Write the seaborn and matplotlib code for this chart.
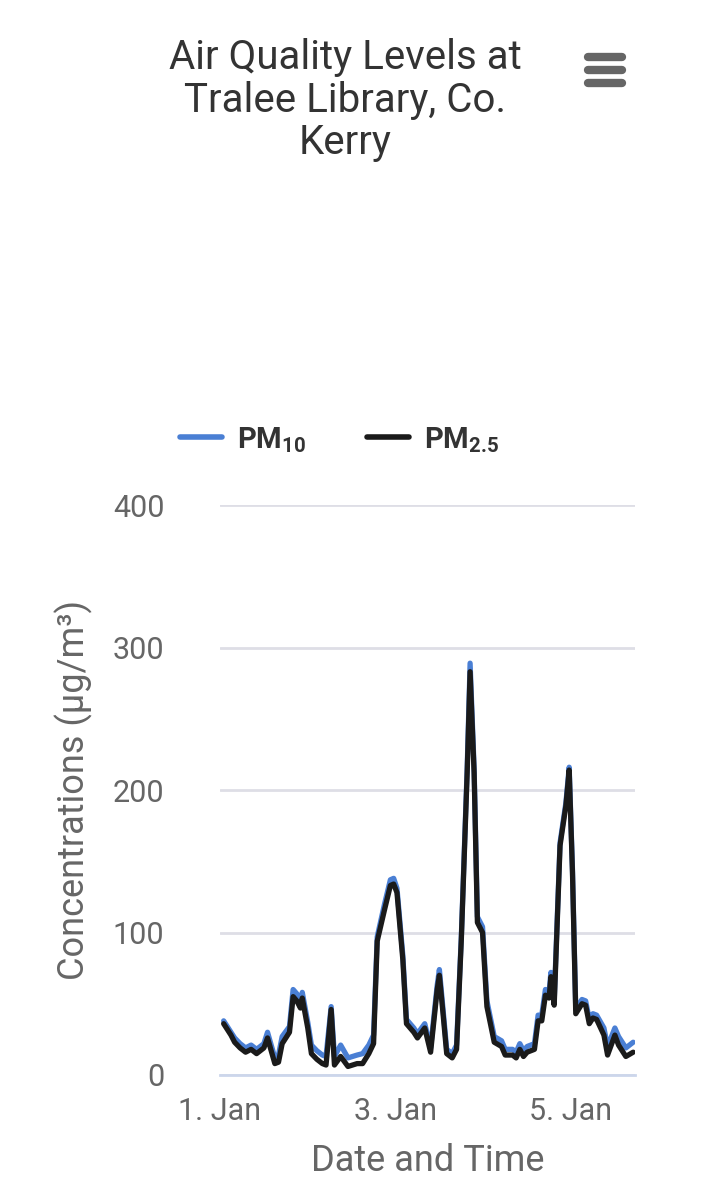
import numpy as np
import pandas as pd
import matplotlib
matplotlib.use("Agg")
import matplotlib.pyplot as plt
import seaborn as sns

# hours since 1 Jan 00:00
hours = [1, 3, 4, 5.5, 7, 8.5, 10, 12, 13, 15, 16, 17, 19, 20, 21, 22, 22.5, 24, 25,
         26.5, 28, 29, 30.4, 31.3, 33, 35, 37.5, 39, 40.7, 42, 43, 45, 46.6, 47.5, 48.4,
         50, 51, 53, 54, 56, 57.6, 59.4, 60, 61, 62, 63.5, 64.7, 66, 67.6, 68.4, 69.5,
         70.4, 71.8, 73, 75, 77, 78, 80, 81, 82, 83, 84, 86, 87, 88, 89, 90, 90.5, 91.4,
         93, 94.6, 95.5, 96.4, 97.3, 99, 100, 101, 102, 103, 105, 106, 108, 109, 111, 113]
pm25 = [36, 28, 23, 19, 16, 18, 15, 19, 26, 8, 9, 22, 30, 55, 52, 47, 54, 33, 15,
        11, 8, 7, 46, 7, 13, 6, 8, 8, 15, 22, 94, 116, 133, 134, 128,
        81, 36, 30, 26, 33, 16, 60, 70, 43, 15, 12, 18, 95, 212, 283, 212,
        107, 100, 48, 23, 20, 14, 14, 12, 18, 13, 16, 18, 38, 38, 56, 54, 69, 49,
        161, 189, 214, 142, 43, 50, 49, 36, 40, 39, 28, 14, 28, 21, 13, 16]
pm10_extra = [2, 2, 3, 3, 3, 3, 3, 3, 4, 4, 5, 5, 4, 5, 5, 4, 4, 4, 6,
              6, 6, 6, 2, 6, 8, 6, 6, 7, 6, 6, 3, 4, 4, 4, 3,
              3, 3, 3, 3, 3, 3, 3, 4, 3, 3, 3, 3, 2, 3, 6, 3,
              4, 4, 4, 4, 4, 4, 4, 4, 4, 4, 4, 4, 4, 4, 4, 4, 3, 3,
              2, 2, 2, 2, 3, 3, 3, 3, 3, 3, 5, 6, 5, 6, 6, 7]
pm10 = [a + b for a, b in zip(pm25, pm10_extra)]

df = pd.DataFrame({"hour": hours * 2,
                   "value": pm10 + pm25,
                   "series": ["PM10"] * len(hours) + ["PM2.5"] * len(hours)})

sns.set_style("white")
plt.rcParams["font.family"] = ["Roboto", "DejaVu Sans"]
plt.rcParams["mathtext.fontset"] = "custom"
plt.rcParams["mathtext.bf"] = "Roboto:bold"
plt.rcParams["mathtext.rm"] = "Roboto"
grey = "#666666"

fig = plt.figure(figsize=(7.16, 12), dpi=100)
ax = fig.add_axes([220 / 716, 1 - 1075 / 1200, 415 / 716, 570 / 1200])

sns.lineplot(data=df, x="hour", y="value", hue="series",
             palette={"PM10": "#4a7fd4", "PM2.5": "#1a1a1a"},
             linewidth=3.8, ax=ax, legend=False)

ax.set_xlim(0, 113.5)
ax.set_ylim(0, 400)
ax.set_yticks([0, 100, 200, 300, 400])
ax.set_xticks([0, 48, 96])
ax.set_xticklabels(["1. Jan", "3. Jan", "5. Jan"])
ax.grid(axis="y", color="#dedee6", linewidth=2)
for s in ["top", "right", "left"]:
    ax.spines[s].set_visible(False)
ax.spines["bottom"].set_color("#ccd6eb")
ax.spines["bottom"].set_linewidth(2)
ax.tick_params(axis="x", length=14, width=2, color="#ccd6eb", labelsize=22,
               labelcolor=grey, pad=2)
ax.tick_params(axis="y", length=0, labelsize=22, labelcolor=grey, pad=40)
ax.set_ylabel("Concentrations (µg/m³)", fontsize=26, color=grey, labelpad=14)
ax.set_xlabel("Date and Time", fontsize=26, color=grey, labelpad=12)

fig.text(345 / 716, 1 - 38 / 1200, "Air Quality Levels at\nTralee Library, Co.\nKerry",
         ha="center", va="top", fontsize=29, color="#333333", linespacing=1.12)

# menu icon
for yy in [57, 70, 83]:
    fig.add_artist(plt.Line2D([588 / 716, 622 / 716], [1 - yy / 1200] * 2,
                              color=grey, linewidth=6, solid_capstyle="round",
                              transform=fig.transFigure))

# legend
for x0, col, lab in [(180, "#4a7fd4", r"$\mathbf{PM_{10}}$"),
                     (367, "#1a1a1a", r"$\mathbf{PM_{2.5}}$")]:
    fig.add_artist(plt.Line2D([x0 / 716, (x0 + 42) / 716], [1 - 437 / 1200] * 2,
                              color=col, linewidth=4, transform=fig.transFigure))
    fig.text((x0 + 57) / 716, 1 - 440 / 1200, lab, fontsize=21, color="#333333",
             va="center")

fig.savefig("out.png", dpi=100)
